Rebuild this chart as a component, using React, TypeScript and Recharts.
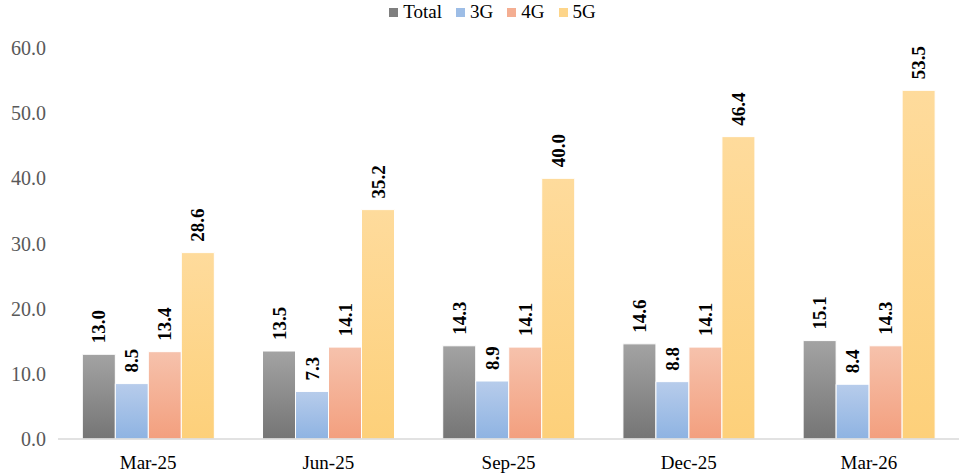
import { Bar, BarChart, LabelList, Legend, XAxis, YAxis } from 'recharts'

const quarters = ['Mar-25', 'Jun-25', 'Sep-25', 'Dec-25', 'Mar-26']
const total = [13.0, 13.5, 14.3, 14.6, 15.1]
const g3 = [8.5, 7.3, 8.9, 8.8, 8.4]
const g4 = [13.4, 14.1, 14.1, 14.1, 14.3]
const g5 = [28.6, 35.2, 40.0, 46.4, 53.5]
const yTicks = [0, 10, 20, 30, 40, 50, 60]

const data = quarters.map((q, i) => ({ q, Total: total[i], '3G': g3[i], '4G': g4[i], '5G': g5[i] }))

const series = [
  { key: 'Total', top: '#a3a3a3', bottom: '#757575', legend: '#7f7f7f' },
  { key: '3G', top: '#b7cceb', bottom: '#8eb3e2', legend: '#9dbde6' },
  { key: '4G', top: '#f6c2ac', bottom: '#f39f7e', legend: '#f4ae92' },
  { key: '5G', top: '#fedb9c', bottom: '#fdd07a', legend: '#fdd58a' },
]

const font = '"Liberation Serif", "Times New Roman", serif'

function VLabel(props: any) {
  const { x, y, width, value } = props
  const cx = x + width / 2
  const cy = y - 11
  return (
    <text
      x={cx}
      y={cy}
      transform={`rotate(-90 ${cx} ${cy})`}
      textAnchor="start"
      dominantBaseline="central"
      style={{ fontFamily: font }}
      fontWeight="bold"
      fontSize={19}
      fill="#000"
    >
      {Number(value).toFixed(1)}
    </text>
  )
}

function LegendContent() {
  return (
    <div style={{ display: 'flex', justifyContent: 'center', fontFamily: font, fontSize: 19, lineHeight: '20px', color: '#000', marginLeft: 40 }}>
      {series.map((s) => (
        <span key={s.key} style={{ display: 'flex', alignItems: 'center', marginRight: 14 }}>
          <span style={{ width: 9, height: 9, background: s.legend, display: 'inline-block', marginRight: 5 }} />
          {s.key}
        </span>
      ))}
    </div>
  )
}

export default function App() {
  return (
    <div style={{ position: 'absolute', left: 0, top: 0, background: '#fff', fontFamily: font }}>
      <BarChart
        width={959}
        height={476}
        data={data}
        margin={{ top: 28, right: 0, bottom: 7, left: 0 }}
        barGap={0}
        barCategoryGap="13.5%"
        style={{ fontFamily: font }}
      >
        <defs>
          {series.map((s) => (
            <linearGradient key={s.key} id={`grad-${s.key}`} x1="0" y1="0" x2="0" y2="1">
              <stop offset="0%" stopColor={s.top} />
              <stop offset="100%" stopColor={s.bottom} />
            </linearGradient>
          ))}
        </defs>
        <Legend verticalAlign="top" align="center" content={<LegendContent />} wrapperStyle={{ top: 2, left: 0, width: 959 }} />
        <XAxis
          dataKey="q"
          height={30}
          tickLine={false}
          axisLine={{ stroke: '#d9d9d9', strokeWidth: 1.5 }}
          tick={{ fill: '#000', fontSize: 19, style: { fontFamily: font } }}
          tickMargin={11}
        />
        <YAxis
          width={58}
          domain={[0, 60]}
          ticks={yTicks}
          axisLine={false}
          tickLine={false}
          tickFormatter={(v: number) => v.toFixed(1)}
          tick={{ fill: '#595959', fontSize: 20, style: { fontFamily: font } }}
          tickMargin={6}
        />
        {series.map((s) => (
          <Bar key={s.key} dataKey={s.key} fill={`url(#grad-${s.key})`} stroke="#fff" strokeWidth={1} isAnimationActive={false}>
            <LabelList dataKey={s.key} content={<VLabel />} />
          </Bar>
        ))}
      </BarChart>
    </div>
  )
}
